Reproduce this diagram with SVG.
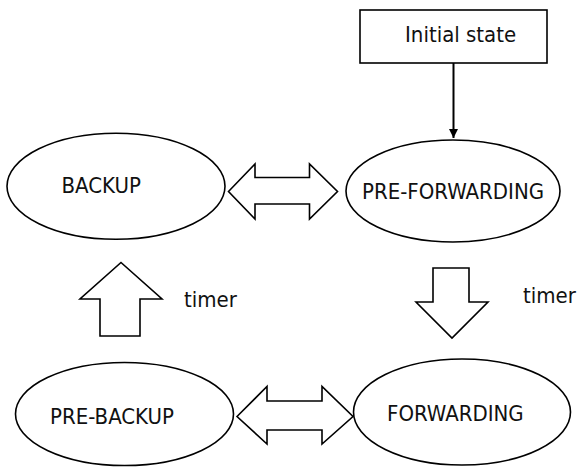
<svg xmlns="http://www.w3.org/2000/svg" width="578" height="467" viewBox="0 0 578 467">
<style>
.shape{fill:#fff;stroke:#000;stroke-width:1.6}
.lbl{font-family:"DejaVu Sans Condensed","DejaVu Sans",sans-serif;font-stretch:condensed;font-size:22px;fill:#111}
.big{fill:#fff;stroke:#000;stroke-width:1.6;stroke-linejoin:miter}
</style>
<defs>
<marker id="ah" viewBox="0 0 10 10" refX="10" refY="5" markerWidth="9" markerHeight="9" markerUnits="userSpaceOnUse" orient="auto">
<path d="M0,0 L10,5 L0,10 z" fill="#000"/>
</marker>
</defs>
<rect width="578" height="467" fill="#fff"/>
<g id="connectors">
<line x1="453.5" y1="63" x2="453.5" y2="138" stroke="#000" stroke-width="2" marker-end="url(#ah)"/>
<path class="big" d="M228.5,191.5 L255,164 L255,177.5 L309.5,177.5 L309.5,164 L337.5,191.5 L309.5,219 L309.5,204 L255,204 L255,219 Z"/>
<path class="big" d="M237,416.5 L267,386.5 L267,401 L322,401 L322,386.5 L353,416.5 L322,444 L322,430 L267,430 L267,444 Z"/>
<path class="big" d="M121,262.5 L162,299 L140,299 L140,336 L100,336 L100,299 L80,299 Z"/>
<path class="big" d="M433,268 L469,268 L469,302 L488,302 L452,338 L416,302 L433,302 Z"/>
<text class="lbl" x="184" y="306.5">timer</text>
<text class="lbl" x="523" y="303">timer</text>
</g>
<g id="initial">
<rect class="shape" x="360" y="10" width="187" height="53" stroke-width="2"/>
<text class="lbl" x="405" y="41.5">Initial state</text>
</g>
<g id="backup">
<ellipse class="shape" cx="116" cy="186.3" rx="109" ry="53"/>
<text class="lbl" x="61.5" y="193">BACKUP</text>
</g>
<g id="preforwarding">
<ellipse class="shape" cx="453" cy="191" rx="107" ry="51"/>
<text class="lbl" x="362" y="199">PRE-FORWARDING</text>
</g>
<g id="prebackup">
<ellipse class="shape" cx="124.5" cy="414" rx="109" ry="51.5"/>
<text class="lbl" x="50" y="424">PRE-BACKUP</text>
</g>
<g id="forwarding">
<ellipse class="shape" cx="462" cy="412" rx="108.5" ry="53"/>
<text class="lbl" x="387" y="421">FORWARDING</text>
</g>
</svg>
